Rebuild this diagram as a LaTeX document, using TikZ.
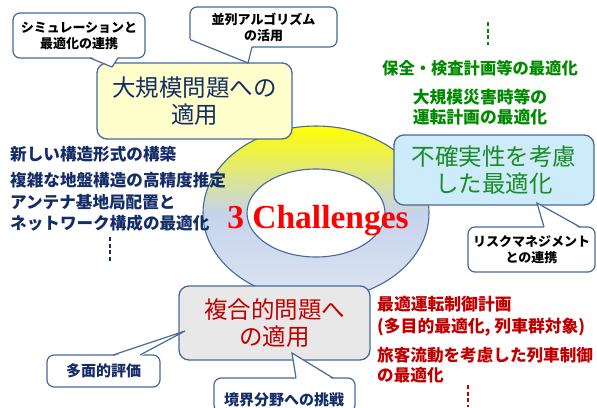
\documentclass[tikz,border=0pt]{standalone}
\usepackage{fontspec}
\setmainfont{Liberation Serif}
\newfontfamily\jp{Noto Sans CJK JP}
\usetikzlibrary{calc}
\definecolor{bordc}{RGB}{70,105,155}
\definecolor{navyt}{RGB}{20,45,105}
\definecolor{greent}{RGB}{0,138,0}
\definecolor{greenbox}{RGB}{25,140,35}
\definecolor{redt}{RGB}{192,0,0}
\definecolor{yelbox}{RGB}{255,255,204}
\definecolor{bluebox}{RGB}{205,235,250}
\definecolor{graybox}{RGB}{232,232,232}
\definecolor{ringblue}{RGB}{197,211,236}
\definecolor{ringbot}{RGB}{222,229,243}
\begin{document}
\begin{tikzpicture}[x=1pt,y=-1pt,
 mainbox/.style={draw=bordc, line width=1.3pt, rounded corners=10pt, inner sep=0pt, align=center, font=\jp\fontsize{23.5}{27}\selectfont},
 callbox/.style={draw=bordc, fill=white, line width=1.2pt, rounded corners=7pt, inner sep=0pt, align=center, font=\jp\bfseries\fontsize{13}{16}\selectfont},
 callline/.style={draw=bordc, line width=1.2pt, line join=miter},
 note/.style={inner sep=0pt, align=left, font=\jp\bfseries\fontsize{16.6}{21}\selectfont},
 dashline/.style={line width=1.4pt, dash pattern=on 4pt off 2.5pt},
 ringline/.style={draw=bordc, line width=1.1pt}
]
\useasboundingbox (0,0) rectangle (597,407);
% ring
\begin{scope}[y=1pt]
\shade[top color=yellow, bottom color=ringbot, middle color=ringblue] (316,-213) ellipse [x radius=113, y radius=87];
\end{scope}
\draw[ringline] (316,213) ellipse [x radius=113, y radius=87];
\draw[ringline, fill=white] (316,213) ellipse [x radius=69, y radius=44];
\node[anchor=base, text=red, font=\bfseries\fontsize{33.5}{36}\selectfont, inner sep=0pt] (title) at (318,228) {3 Challenges};

% main boxes
\node[mainbox, fill=yelbox, text=navyt, minimum width=195pt, minimum height=76pt] (large) at (194.5,101) {大規模問題への\\適用};
\node[mainbox, fill=bluebox, text=greenbox, minimum width=200pt, minimum height=70pt] (uncert) at (494,170) {不確実性を考慮\\した最適化};
\node[mainbox, fill=graybox, text=redt, minimum width=191pt, minimum height=74pt] (complex) at (274.5,323) {複合的問題へ\\の適用};

% callouts
\node[callbox, minimum width=132pt, minimum height=45pt] (sim) at (79,35.5) {シミュレーションと\\最適化の連携};
\coordinate (simtip) at (112,67);
\fill[white] (90,56.5) -- (simtip) -- (118,56.5) -- cycle;
\draw[callline] (90,58) -- (simtip) -- (118,58);

\node[callbox, minimum width=147pt, minimum height=40pt] (par) at (263.5,27) {並列アルゴリズム\\の活用};
\coordinate (partip) at (248,63);
\fill[white] (188.5,39) rectangle (215,49.5);
\fill[white] (191.5,40) -- (partip) -- (252,45.5) -- (200,45.5) -- cycle;
\draw[callline] (190,39.5) -- (partip) -- (252,47);

\node[callbox, minimum width=127pt, minimum height=45pt] (risk) at (531.5,249.5) {リスクマネジメント\\との連携};
\coordinate (risktip) at (537,203);
\fill[white] (544,228.5) -- (risktip) -- (580,228.5) -- cycle;
\draw[callline] (544,227) -- (risktip) -- (580,227);

\node[callbox, text=navyt, font=\jp\bfseries\fontsize{15}{18}\selectfont, minimum width=113pt, minimum height=32pt] (multi) at (103.5,371) {多面的評価};
\coordinate (multitip) at (185,331);
\fill[white] (113,356.5) -- (multitip) -- (140,356.5) -- cycle;
\draw[callline] (113,355) -- (multitip) -- (140,355);

\node[callbox, minimum width=141pt, minimum height=34pt] (bound) at (284.5,395) {};
\node[inner sep=0pt, font=\jp\bfseries\fontsize{15}{18}\selectfont, text=navyt] (boundtxt) at (284,399.5) {境界分野への挑戦};
\coordinate (boundtip) at (292,353);
\fill[white] (296,379.5) -- (boundtip) -- (333,379.5) -- cycle;
\draw[callline] (296,378) -- (boundtip) -- (333,378);

% green notes
\node[note, text=greent, font=\jp\bfseries\fontsize{16.3}{20}\selectfont] (g1) at (480,68) {保全・検査計画等の最適化};
\node[note, text=greent, align=center, font=\jp\bfseries\fontsize{16.8}{20}\selectfont] (g2) at (480,107) {大規模災害時等の\\運転計画の最適化};
\draw[dashline, greent] (488,22) -- (488,45);

% left notes
\node[note, text=navyt, anchor=west] (l1) at (10,154) {新しい構造形式の構築};
\node[note, text=navyt, anchor=west] (l2) at (10,180) {複雑な地盤構造の高精度推定};
\node[note, text=navyt, anchor=west] (l3) at (10,212.5) {アンテナ基地局配置と\\ネットワーク構成の最適化};
\draw[dashline, navyt] (110,237) -- (110,262);

% red notes
\node[note, text=redt, anchor=west, font=\jp\bfseries\fontsize{16.8}{22}\selectfont] (r1) at (377,316) {最適運転制御計画\\(多目的最適化, 列車群対象)};
\node[note, text=redt, anchor=west, font=\jp\bfseries\fontsize{16.6}{20}\selectfont] (r2) at (377,365) {旅客流動を考慮した列車制御\\の最適化};
\draw[dashline, redt] (468,385) -- (468,407);
\end{tikzpicture}
\end{document}
